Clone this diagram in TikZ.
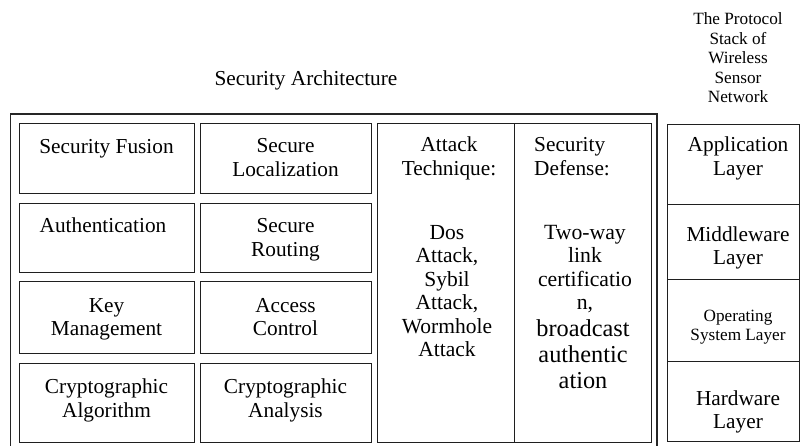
\documentclass[tikz,border=0pt]{standalone}
\usepackage{fontspec}
\setmainfont{Liberation Serif}
\begin{document}
\begin{tikzpicture}[x=1pt,y=-1pt,
  cell/.style={draw=black!88, line width=1.2pt, inner sep=0pt, anchor=north west},
  % multi-line labels are placed by the baseline of their last line
  txt/.style={inner sep=0pt, align=center, anchor=base, font=\fontsize{21.3}{23.5}\selectfont},
  smalltxt/.style={txt, font=\fontsize{17.2}{19.5}\selectfont},
  frame/.style={draw=black!85, line width=1.5pt},
]
\useasboundingbox (0,0) rectangle (800,446);

% headings
\node[txt] (archtitle) at (306,86) {Security Architecture};
\node[smalltxt] (stacktitle) at (738,103) {The Protocol\\Stack of\\Wireless\\Sensor\\Network};

% open frame around the security architecture
\coordinate (fbl) at (10.5,447);
\coordinate (ftl) at (10.5,114);
\coordinate (ftr) at (657,114);
\coordinate (fbr) at (657,447);
\draw[frame] (fbl) -- (ftl) -- (ftr) -- (fbr);

% left grid of mechanisms
\node[cell, minimum width=175pt, minimum height=70pt] (sf) at (19,123) {};
\node[cell, minimum width=171pt, minimum height=70pt] (sl) at (200,123) {};
\node[cell, minimum width=175pt, minimum height=69pt] (au) at (19,203) {};
\node[cell, minimum width=171pt, minimum height=69pt] (sr) at (200,203) {};
\node[cell, minimum width=175pt, minimum height=72pt] (km) at (19,281) {};
\node[cell, minimum width=171pt, minimum height=72pt] (ac) at (200,281) {};
\node[cell, minimum width=175pt, minimum height=79pt] (ca) at (19,363) {};
\node[cell, minimum width=171pt, minimum height=79pt] (cn) at (200,363) {};

\node[txt] (sft) at (106.5,154) {Security Fusion};
\node[txt] (slt) at (285.5,176.5) {Secure\\Localization};
\node[txt] (aut) at (103,233) {Authentication};
\node[txt] (srt) at (285.5,256.5) {Secure\\Routing};
\node[txt] (kmt) at (106.5,335.5) {Key\\Management};
\node[txt] (act) at (285.5,335.5) {Access\\Control};
\node[txt] (cat) at (106.5,417) {Cryptographic\\Algorithm};
\node[txt] (cnt) at (285.5,417) {Cryptographic\\Analysis};

% attack / defense panel
\node[cell, minimum width=137pt, minimum height=319pt] (atk) at (377,123) {};
\node[cell, minimum width=137pt, minimum height=319pt] (def) at (514,123) {};
\node[txt] (atkh) at (449,175.5) {Attack\\Technique:};
\node[txt, font=\fontsize{21.5}{23.5}\selectfont] (atkl) at (447,356.5)
  {Dos\\Attack,\\Sybil\\Attack,\\Wormhole\\Attack};
\node[txt, align=left, anchor=base west] (defh) at (534,175.5) {Security\\Defense:};
\node[txt, font=\fontsize{21.7}{23.5}\selectfont] (defa) at (585,309.5)
  {Two-way\\link\\certificatio\\n,};
\node[txt, font=\fontsize{24.3}{26}\selectfont] (defb) at (583,388.5)
  {broadcast\\authentic\\ation};

% protocol stack
\node[cell, minimum width=132pt, minimum height=80pt] (app) at (667,124) {};
\node[cell, minimum width=132pt, minimum height=75pt] (mid) at (667,204) {};
\node[cell, minimum width=132pt, minimum height=82pt] (os) at (667,279) {};
\node[cell, minimum width=132pt, minimum height=80pt] (hw) at (667,361) {};
\node[txt] (appt) at (738,175.5) {Application\\Layer};
\node[txt] (midt) at (738,265) {Middleware\\Layer};
\node[smalltxt, font=\fontsize{17.2}{19}\selectfont] (ost) at (738,340) {Operating\\System Layer};
\node[txt] (hwt) at (738,428.5) {Hardware\\Layer};
\end{tikzpicture}
\end{document}
